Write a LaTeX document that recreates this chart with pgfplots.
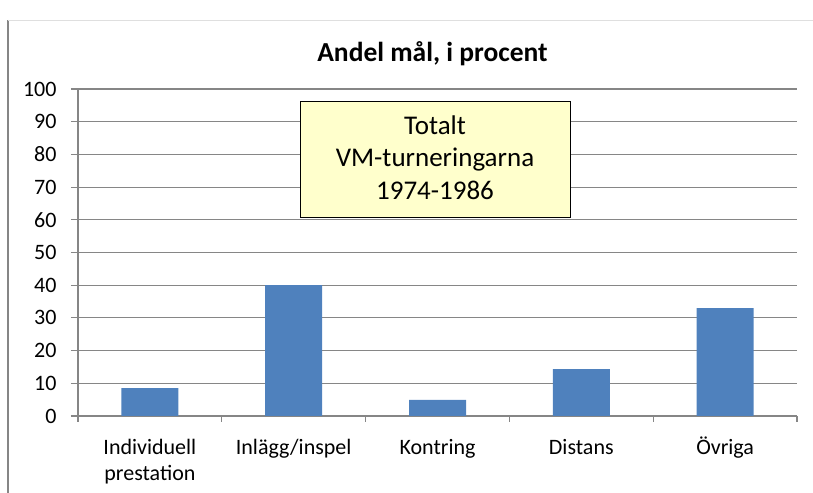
\documentclass[border=0pt]{standalone}
\usepackage{fontspec}
\setmainfont{Carlito}
\usepackage{pgfplots}
\pgfplotsset{compat=1.18}
\definecolor{barblue}{RGB}{79,129,189}
\definecolor{gridgray}{RGB}{134,134,134}
\definecolor{boxyellow}{RGB}{255,255,204}
\begin{document}
\begin{tikzpicture}[x=1bp,y=1bp]
\useasboundingbox (0,0) rectangle (813,493);
\draw[gridgray, line width=1.5bp] (8,473) -- (8,0);
\draw[gray!25, line width=0.8bp] (8,473) -- (813,473);
\begin{axis}[
  at={(78bp,77bp)}, anchor=south west,
  scale only axis, width=719bp, height=327bp,
  xmin=-0.5, xmax=4.5, ymin=0, ymax=100,
  ytick={0,10,...,100},
  xtick={0,...,4},
  xticklabels={{\strut Individuell\\prestation},{\strut Inlägg/inspel},{\strut Kontring},{\strut Distans},{\strut Övriga}},
  minor xtick={-0.5,0.5,...,4.5},
  axis x line*=bottom, axis y line*=left,
  axis line style={draw=gridgray, line width=1.3bp, -},
  ymajorgrids, grid style={draw=gridgray, line width=1.1bp},
  tick align=outside,
  major tick length=7bp, minor tick length=6bp,
  tick style={draw=gridgray, line width=1.1bp},
  x tick style={draw=none},
  minor x tick style={draw=gridgray, line width=1.1bp},
  yticklabel style={font=\fontsize{22bp}{26bp}\selectfont, xshift=-11bp},
  xticklabel style={font=\fontsize{22bp}{26bp}\selectfont, align=center, yshift=-10bp},
  /pgf/number format/assume math mode=true,
  ybar, bar width=57bp,
]
\addplot[fill=barblue, draw=none] coordinates {(0,8.5) (1,40) (2,4.9) (3,14.3) (4,33)};
\end{axis}
\node[font=\fontsize{27.5bp}{32bp}\selectfont\bfseries, anchor=base] at (432.5,431) {Andel mål, i procent};
\draw[black, line width=1bp, fill=boxyellow] (300,275) rectangle (570,391);
\node[font=\fontsize{27bp}{31bp}\selectfont, anchor=base] at (435,358) {Totalt};
\node[font=\fontsize{27bp}{31bp}\selectfont, anchor=base] at (435,326) {VM-turneringarna};
\node[font=\fontsize{27bp}{31bp}\selectfont, anchor=base] at (435,293) {1974-1986};
\end{tikzpicture}
\end{document}
